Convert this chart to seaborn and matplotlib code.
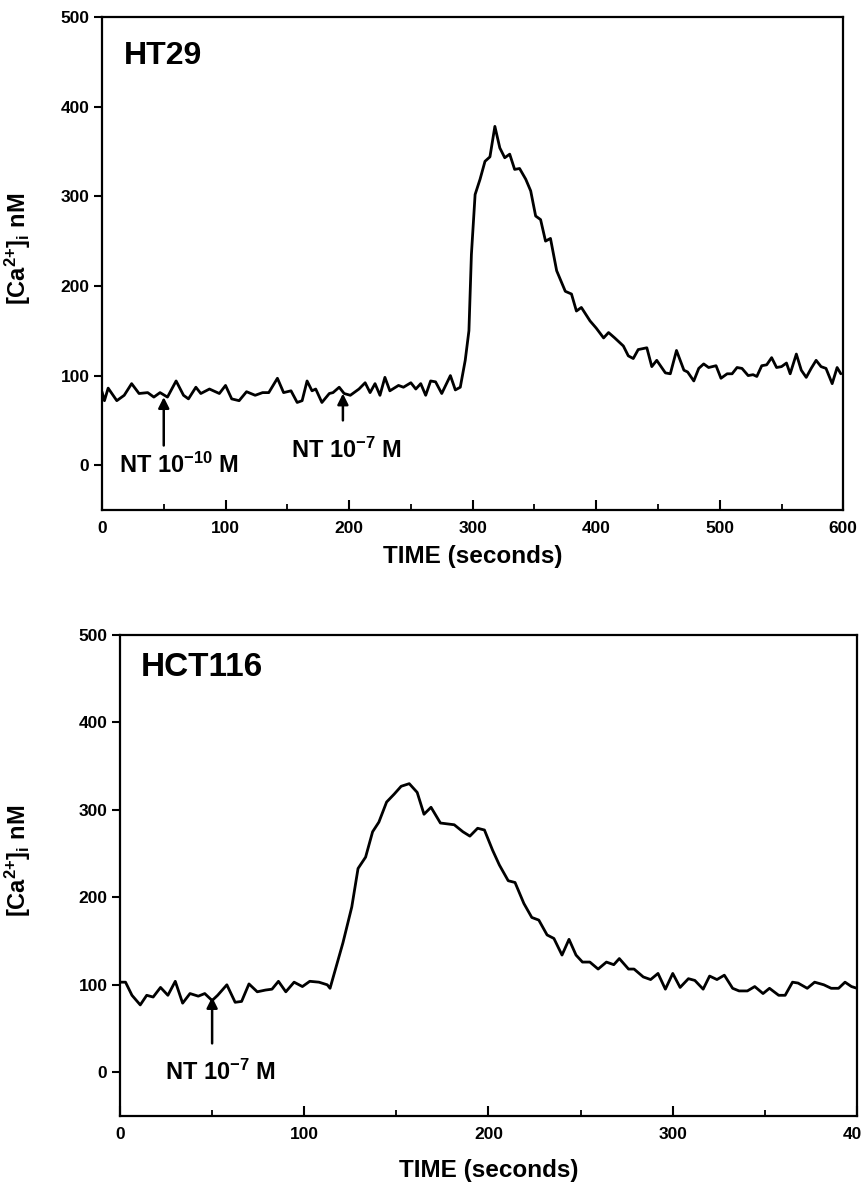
import matplotlib
matplotlib.use("Agg")
import matplotlib.pyplot as plt
import seaborn as sns
import pandas as pd
from matplotlib.ticker import MultipleLocator

# ---------------- data ----------------
ht29_time = [0, 2, 5, 12, 18, 24, 30, 37, 42, 47,
             53, 60, 66, 70, 76, 80, 87, 95, 100, 105,
             111, 117, 124, 130, 135, 142, 147, 153, 158, 162,
             166, 170, 173, 178, 184, 187, 192, 196, 201, 208,
             213, 217, 221, 225, 229, 233, 240, 244, 250, 254,
             258, 262, 266, 270, 275, 282, 286, 290, 294, 297,
             299, 302, 306, 310, 314, 318, 322, 326, 330, 334,
             338, 343, 347, 351, 355, 359, 363, 368, 375, 380,
             384, 388, 395, 400, 406, 410, 415, 422, 426, 430,
             434, 441, 445, 449, 456, 460, 465, 471, 474, 479,
             483, 487, 491, 497, 501, 506, 510, 514, 518, 523,
             527, 530, 534, 538, 542, 546, 550, 554, 557, 562,
             566, 570, 574, 578, 582, 586, 591, 595, 598]
ht29_ca = [82, 72, 86, 72, 78, 91, 80, 81, 76, 81,
           76, 94, 78, 74, 87, 80, 85, 80, 89, 74,
           72, 82, 78, 81, 81, 97, 81, 83, 70, 72,
           94, 83, 85, 70, 80, 81, 87, 80, 78, 85,
           92, 81, 91, 78, 98, 83, 89, 87, 92, 85,
           91, 78, 94, 93, 80, 100, 84, 87, 117, 150,
           235, 302, 319, 339, 344, 378, 354, 343, 347, 330,
           331, 319, 306, 278, 274, 250, 253, 217, 194, 191,
           172, 176, 161, 153, 142, 148, 142, 133, 122, 119,
           129, 131, 110, 117, 103, 102, 128, 106, 104, 94,
           108, 113, 109, 111, 97, 102, 102, 109, 108, 100,
           101, 99, 111, 112, 120, 109, 110, 114, 102, 124,
           106, 98, 108, 117, 110, 108, 91, 109, 102]

hct_time = [0, 3, 6.5, 11, 14.5, 18, 22, 26, 30, 34,
            38, 42.5, 46, 50, 53, 58, 62.5, 66, 70, 74.5,
            79, 82.5, 86, 90, 94.5, 99, 103, 108, 112.5, 114,
            121, 125.8, 129.2, 133.3, 137.1, 140.5, 144.7, 148.8, 152.6, 157,
            161.3, 165, 168.8, 173.9, 181.4, 186.1, 189.9, 194.1, 197.8, 202.2,
            205.9, 210.7, 214.4, 219.2, 223.5, 227.3, 231.8, 235.5, 239.9, 243.7,
            247.5, 251, 255, 259.5, 264, 268, 271, 276, 279, 284,
            288, 292, 296, 300, 304, 308.5, 312, 316.5, 320, 324,
            328, 332.5, 336, 340.5, 344.5, 349, 352.5, 357.5, 361, 365,
            368, 373, 377, 382, 386, 390, 393.5, 397, 400]
hct_ca = [103, 103, 88, 77, 88, 86, 97, 88, 104, 79,
          90, 87, 90, 82, 88, 100, 80, 81, 101, 92,
          94, 95, 104, 92, 103, 98, 104, 103, 100, 96,
          148, 189, 233, 246, 275, 286, 309, 318, 327, 330,
          320, 295, 303, 285, 283, 275, 270, 279, 277, 254,
          237, 219, 217, 193, 177, 174, 157, 153, 134, 152,
          134, 126, 126, 118, 126, 123, 130, 118, 118, 109,
          106, 113, 95, 113, 97, 107, 105, 95, 110, 106,
          111, 96, 93, 93, 98, 90, 96, 88, 88, 103,
          102, 96, 103, 100, 96, 96, 103, 98, 96]

y_ticks = [0, 100, 200, 300, 400, 500]
ht29_xticks = [0, 100, 200, 300, 400, 500, 600]
hct_xticks = [0, 100, 200, 300, 400]

panel_titles = ["HT29", "HCT116"]
x_label = "TIME (seconds)"
y_label = r"[Ca$^{2{+}}$]$_{i}$ nM"

# ---------------- style ----------------
sns.set_theme(style="ticks")
plt.rcParams["font.family"] = ["Liberation Sans", "DejaVu Sans"]
plt.rcParams["font.weight"] = "bold"
plt.rcParams["text.color"] = "black"
plt.rcParams["axes.labelcolor"] = "black"
plt.rcParams["xtick.color"] = "black"
plt.rcParams["ytick.color"] = "black"
plt.rcParams["mathtext.fontset"] = "custom"
plt.rcParams["mathtext.rm"] = "Liberation Sans:bold"
plt.rcParams["mathtext.it"] = "Liberation Sans:bold"
plt.rcParams["mathtext.bf"] = "Liberation Sans:bold"
plt.rcParams["mathtext.default"] = "regular"

fig = plt.figure(figsize=(8.62, 11.90), dpi=100)
fig.patch.set_facecolor("white")

ax1 = fig.add_axes([0.1183, 0.5714, 0.8600, 0.4143])
ax2 = fig.add_axes([0.1392, 0.0622, 0.8550, 0.4042])

df1 = pd.DataFrame({"t": ht29_time, "ca": ht29_ca})
df2 = pd.DataFrame({"t": hct_time, "ca": hct_ca})

sns.lineplot(data=df1, x="t", y="ca", ax=ax1, color="black", lw=2.0)
sns.lineplot(data=df2, x="t", y="ca", ax=ax2, color="black", lw=2.0)


def style_axes(ax, xmax, xticks, ylab_x, xlab_y):
    ax.set_xlim(0, xmax)
    ax.set_ylim(-50, 500)
    ax.set_yticks(y_ticks)
    ax.set_xticks(xticks)
    ax.xaxis.set_minor_locator(MultipleLocator(50))
    for s in ax.spines.values():
        s.set_visible(True)
        s.set_linewidth(1.6)
        s.set_color("black")
    ax.tick_params(axis="y", which="major", direction="out", length=6,
                   width=1.5, pad=3, labelsize=12.5, colors="black")
    ax.tick_params(axis="x", which="major", direction="in", length=7,
                   width=1.5, pad=8, labelsize=12.5, colors="black")
    ax.tick_params(axis="x", which="minor", direction="in", length=4,
                   width=1.3)
    for lab in ax.get_xticklabels() + ax.get_yticklabels():
        lab.set_fontweight("bold")
    ax.set_xlabel(x_label, fontsize=17.5, fontweight="bold", va="top",
                  color="black")
    ax.set_ylabel(y_label, fontsize=17, fontweight="bold", color="black")
    ax.yaxis.set_label_coords(ylab_x, 0.53)
    ax.xaxis.set_label_coords(0.5, xlab_y)
    ax.set_facecolor("white")


style_axes(ax1, 600, ht29_xticks, -0.093, -0.070)
style_axes(ax2, 400, hct_xticks, -0.118, -0.090)

# titles inside panels
ax1.text(18, 456, panel_titles[0], fontsize=23, fontweight="bold",
         va="center", ha="left", color="black")
ax2.text(11, 463, panel_titles[1], fontsize=24, fontweight="bold",
         va="center", ha="left", color="black")

arrow_kw = dict(arrowstyle="-|>", color="black", lw=1.8,
                mutation_scale=16, shrinkA=0, shrinkB=0)

# HT29 annotations
ax1.annotate("", xy=(50, 76), xytext=(50, 22), arrowprops=arrow_kw)
ax1.text(14, 0, r"NT 10$^{-10}$ M", fontsize=17, fontweight="bold",
         va="center", ha="left", color="black")
ax1.annotate("", xy=(195, 80), xytext=(195, 50), arrowprops=arrow_kw)
ax1.text(153, 17, r"NT 10$^{-7}$ M", fontsize=17, fontweight="bold",
         va="center", ha="left", color="black")

# HCT116 annotation
ax2.annotate("", xy=(50, 86), xytext=(50, 33), arrowprops=arrow_kw)
ax2.text(24.5, 0, r"NT 10$^{-7}$ M", fontsize=17, fontweight="bold",
         va="center", ha="left", color="black")

fig.savefig("out.png", dpi=100, facecolor="white")
